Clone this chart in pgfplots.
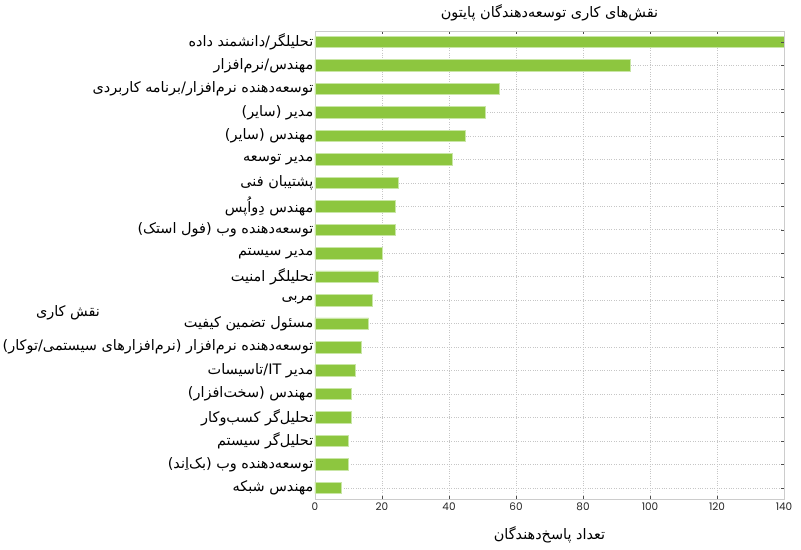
\documentclass[border=0pt]{standalone}
\usepackage{fontspec}
\usepackage{pgfplots}
\pgfplotsset{compat=1.18}
\TeXXeTstate=1
\newfontfamily\arabicfont[Script=Arabic]{DejaVu Sans}
\newfontfamily\poppins{Poppins}
\definecolor{barfill}{HTML}{8DC63F}
\definecolor{baredge}{HTML}{C9E6A6}
\definecolor{frame}{HTML}{CCCCCC}

\begin{document}
\begin{tikzpicture}[x=1bp,y=1bp]
\begin{axis}[
    at={(0,0)},
    scale only axis,
    width=469bp,
    height=468bp,
    xbar,
    bar width=11.5bp,
    xmin=0, xmax=140,
    ymin=-0.47, ymax=19.47,
    y dir=reverse,
    xtick={0,20,...,140},
    ytick={0,...,19},
    yticklabels={
        {\arabicfont\beginR تحلیلگر/دانشمند داده\endR},
        {\arabicfont\beginR مهندس/نرم‌افزار\endR},
        {\arabicfont\beginR توسعه‌دهنده نرم‌افزار/برنامه کاربردی\endR},
        {\arabicfont\beginR مدیر (سایر)\endR},
        {\arabicfont\beginR مهندس (سایر)\endR},
        {\arabicfont\beginR مدیر توسعه\endR},
        {\arabicfont\beginR پشتیبان فنی\endR},
        {\arabicfont\beginR مهندس دِواُپس\endR},
        {\arabicfont\beginR توسعه‌دهنده وب (فول استک)\endR},
        {\arabicfont\beginR مدیر سیستم\endR},
        {\arabicfont\beginR تحلیلگر امنیت\endR},
        {\arabicfont\beginR مربی\endR},
        {\arabicfont\beginR مسئول تضمین کیفیت\endR},
        {\arabicfont\beginR توسعه‌دهنده نرم‌افزار (نرم‌افزارهای سیستمی/توکار)\endR},
        {\arabicfont\beginR مدیر \beginL IT\endL/تاسیسات\endR},
        {\arabicfont\beginR مهندس (سخت‌افزار)\endR},
        {\arabicfont\beginR تحلیل‌گر کسب‌وکار\endR},
        {\arabicfont\beginR تحلیل‌گر سیستم\endR},
        {\arabicfont\beginR توسعه‌دهنده وب (بک‌اِند)\endR},
        {\arabicfont\beginR مهندس شبکه\endR}},
    /pgf/number format/assume math mode=true,
    x tick label style={font=\poppins\fontsize{10.5}{12}\selectfont, color=black!85},
    y tick label style={font=\fontsize{14.5}{16}\selectfont, color=black, inner xsep=1.5bp},
    axis line style={frame},
    tick style={black!70, thin},
    major tick length=3bp,
    tick align=inside,
    ytick style={draw=none},
    xtick pos=both,
    grid=major,
    grid style={gray!45, dotted, line width=0.6pt},
]
\addplot[fill=barfill, draw=baredge, line width=0.8pt] coordinates {
    (140,0) (94,1) (55,2) (51,3) (45,4) (41,5) (25,6) (24,7) (24,8) (20,9)
    (19,10) (17,11) (16,12) (14,13) (12,14) (11,15) (11,16) (10,17) (10,18) (8,19)
};
\end{axis}
% small ticks at each category on the right edge
\begin{axis}[
    at={(0,0)},
    scale only axis,
    width=469bp,
    height=468bp,
    xmin=0, xmax=140,
    ymin=-0.47, ymax=19.47,
    y dir=reverse,
    axis y line*=right,
    hide x axis,
    ytick={0,...,19},
    yticklabels={},
    axis line style={frame},
    tick style={black!70, thin},
    major tick length=3bp,
    tick align=inside,
]
\addplot[draw=none, forget plot] coordinates {(0,0) (1,1)};
\end{axis}
\node[font=\fontsize{14.5}{16}\selectfont] at (234.5bp,486bp) {\arabicfont\beginR نقش‌های کاری توسعه‌دهندگان پایتون\endR};
\node[font=\fontsize{14.5}{16}\selectfont] at (234.5bp,-36bp) {\arabicfont\beginR تعداد پاسخ‌دهندگان\endR};
\node[font=\fontsize{14.5}{16}\selectfont] at (-247bp,186bp) {\arabicfont\beginR نقش کاری\endR};
\pgfresetboundingbox
\path[use as bounding box] (-315bp,-51bp) rectangle (486bp,499bp);
\end{tikzpicture}
\end{document}
